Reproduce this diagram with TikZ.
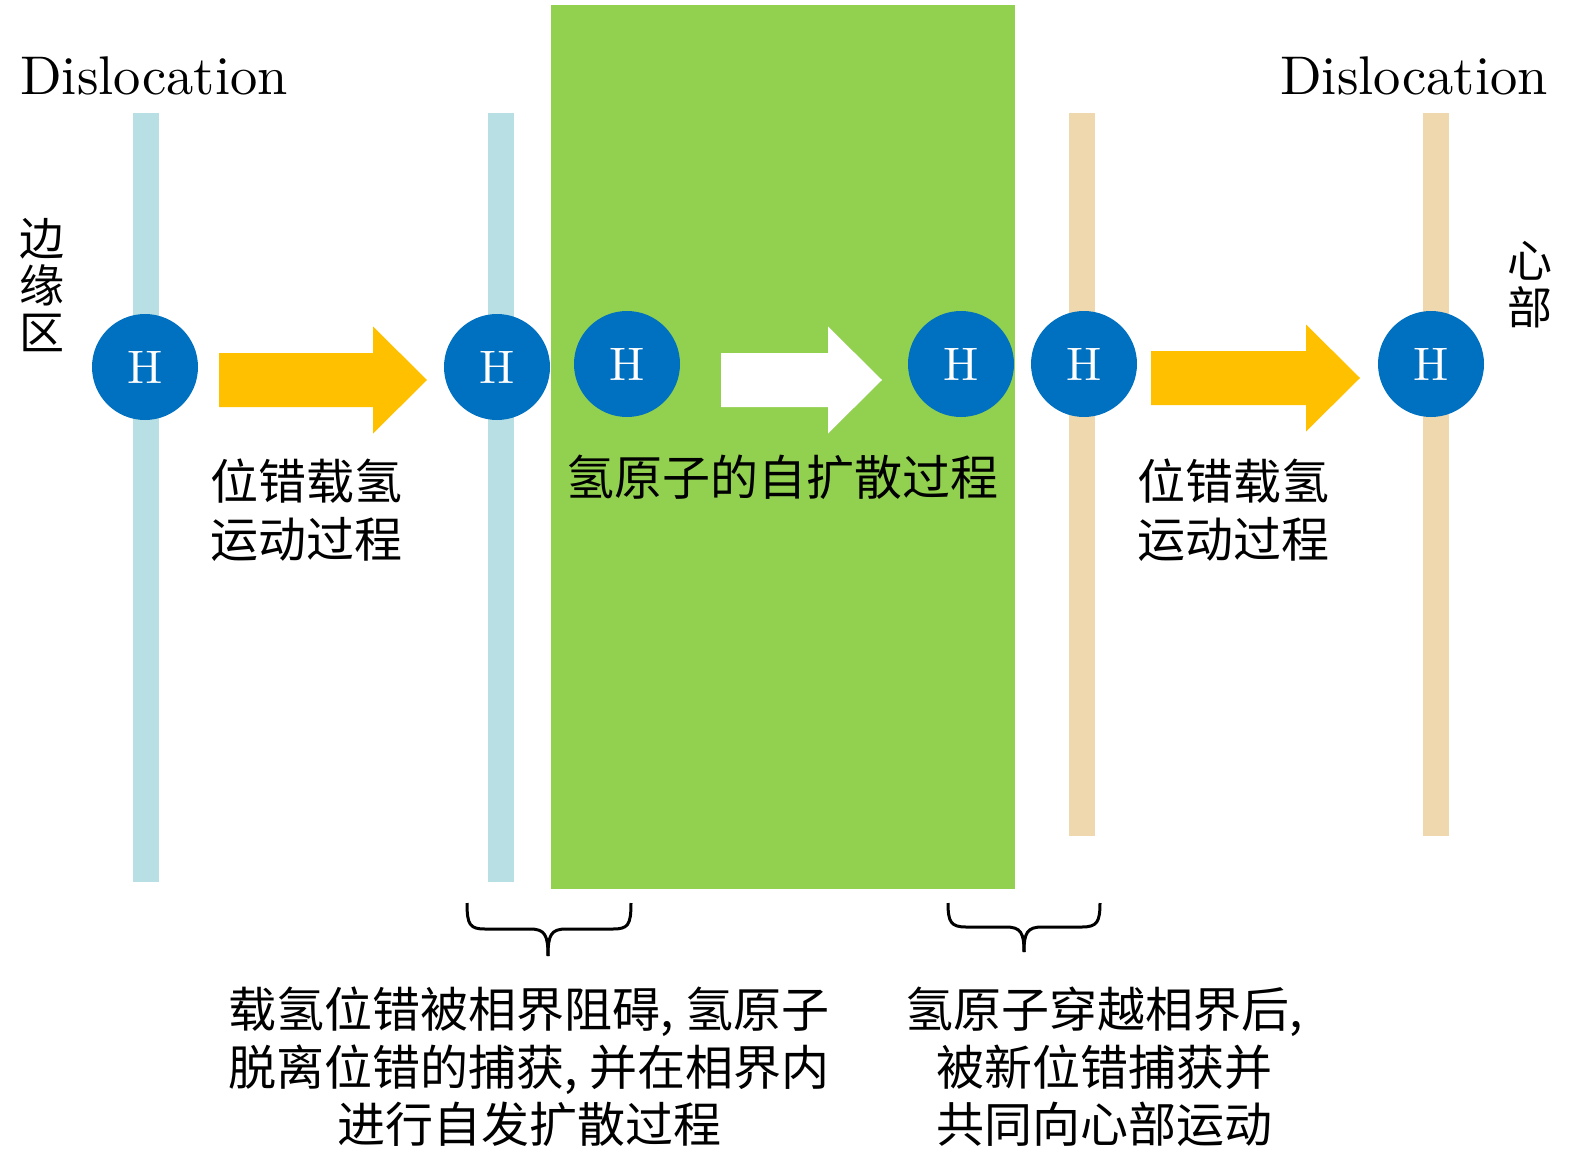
\documentclass[tikz,border=0pt]{standalone}
\usepackage{fontspec}
\newfontfamily\cjk{Noto Sans CJK SC}
\definecolor{hblue}{HTML}{0070C0}
\definecolor{phasegreen}{HTML}{92D050}
\definecolor{arroworange}{HTML}{FFC000}
\definecolor{barblue}{HTML}{B8E0E4}
\definecolor{bartan}{HTML}{EFD8AD}
\newcommand\blockarrow[4]{%
  \fill[#1] (#2,#4-27) -- (#3-54,#4-27) -- (#3-54,#4-53.5) -- (#3,#4) -- (#3-54,#4+53.5) -- (#3-54,#4+27) -- (#2,#4+27) -- cycle;}
\begin{document}
\begin{tikzpicture}[x=1pt,y=-1pt,
  hatom/.style={circle,fill=hblue,minimum size=106pt,inner sep=0pt},
  hlabel/.style={text=white,inner sep=0pt,scale=4.7,font=\fontsize{10}{12}\selectfont},
  cjktext/.style={font=\cjk\fontsize{48}{57.5}\selectfont,align=center,inner sep=0pt},
  vtext/.style={font=\cjk\fontsize{45}{47}\selectfont,align=center,inner sep=0pt},
  latintext/.style={font=\fontsize{10}{12}\selectfont,scale=5.45,inner sep=0pt},
  bracepath/.style={line width=3pt,draw=black}]
\useasboundingbox (0,0) rectangle (1575,1161);
% phase region
\fill[phasegreen] (551,5) rectangle (1015,889);
% dislocation bars
\fill[barblue] (133,113) rectangle (159,882);
\fill[barblue] (488,113) rectangle (514,882);
\fill[bartan] (1069,113) rectangle (1095,836);
\fill[bartan] (1423,113) rectangle (1449,836);
% arrows
\blockarrow{arroworange}{219}{427}{380}
\blockarrow{white}{721}{882}{380}
\blockarrow{arroworange}{1151}{1360}{378}
% hydrogen atoms
\foreach \n/\x/\y in {h1/145/367, h2/497/367, h3/627/364, h4/961/364, h5/1084/364, h6/1431/364}{
  \node[hatom] (\n) at (\x,\y) {};
  \node[hlabel] (\n-label) at (\n.center) {H};
}
% labels
\node[latintext] (dl) at (154,76) {Dislocation};
\node[latintext] (dr) at (1414,76) {Dislocation};
\node[vtext] (edge) at (42,285) {边\\缘\\区};
\node[vtext] (core) at (1530,285) {心\\部};
\node[cjktext] (move1) at (306,510) {位错载氢\\运动过程};
\node[cjktext] (move2) at (1233,510) {位错载氢\\运动过程};
\node[cjktext] (self) at (782,477) {氢原子的自扩散过程};
% braces
\draw[bracepath] (467,903) .. controls (467,925) and (470,929) .. (485,929) -- (530,929) .. controls (545,929) and (548,935) .. (548,956);
\draw[bracepath] (631,903) .. controls (631,925) and (628,929) .. (613,929) -- (566,929) .. controls (551,929) and (548,935) .. (548,956);
\draw[bracepath] (948,903) .. controls (948,922) and (951,927) .. (966,927) -- (1006,927) .. controls (1021,927) and (1024,933) .. (1024,952);
\draw[bracepath] (1100,903) .. controls (1100,922) and (1097,927) .. (1082,927) -- (1042,927) .. controls (1027,927) and (1024,933) .. (1024,952);
% explanations
\node[cjktext] (bl) at (529,1067) {载氢位错被相界阻碍, 氢原子\\脱离位错的捕获, 并在相界内\\进行自发扩散过程};
\node[cjktext] (br) at (1104,1067) {氢原子穿越相界后,\\被新位错捕获并\\共同向心部运动};
\end{tikzpicture}
\end{document}
